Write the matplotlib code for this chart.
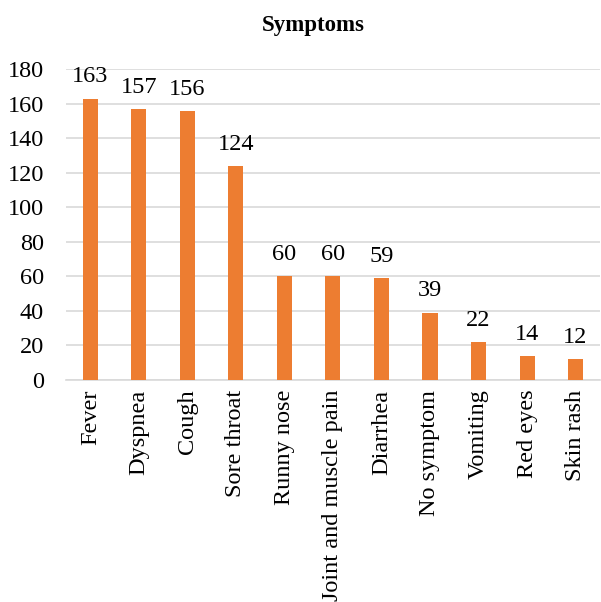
import matplotlib
matplotlib.use("Agg")
import matplotlib.pyplot as plt

categories = ["Fever", "Dyspnea", "Cough", "Sore throat", "Runny nose",
              "Joint and muscle pain", "Diarrhea", "No symptom", "Vomiting",
              "Red eyes", "Skin rash"]
counts = [163, 157, 156, 124, 60, 60, 59, 39, 22, 14, 12]
yticks = [0, 20, 40, 60, 80, 100, 120, 140, 160, 180]

plt.rcParams["font.family"] = ["Liberation Serif", "DejaVu Serif"]

fig = plt.figure(figsize=(6.01, 6.02), dpi=100)
ax = fig.add_axes([0.110, 0.369, 0.888, 0.516])

x = range(len(categories))
ax.bar(x, counts, width=0.31, color="#ED7D31", zorder=3)
for xi, v in zip(x, counts):
    ax.annotate(str(v), (xi, v), xytext=(0, 8), textcoords="offset points",
                ha="center", va="bottom", fontsize=17.5, color="#000000")

ax.set_xlim(-0.5, len(categories) - 0.5)
ax.set_ylim(0, 180)
ax.set_yticks(yticks)
ax.set_xticks(list(x))
ax.set_xticklabels(categories, rotation=90, fontsize=17.5)
ax.tick_params(axis="y", labelsize=17.5, length=0, pad=16)
ax.tick_params(axis="x", length=0, pad=7)
ax.yaxis.grid(True, color="#d9d9d9", linewidth=1.2, zorder=0)
for side in ["top", "right", "left"]:
    ax.spines[side].set_visible(False)
ax.spines["bottom"].set_color("#d9d9d9")
ax.spines["bottom"].set_linewidth(1.2)

fig.text(0.521, 0.958, "Symptoms", ha="center", va="center", fontsize=16.5, fontweight="bold")

fig.savefig("out.png", dpi=100, facecolor="white")
